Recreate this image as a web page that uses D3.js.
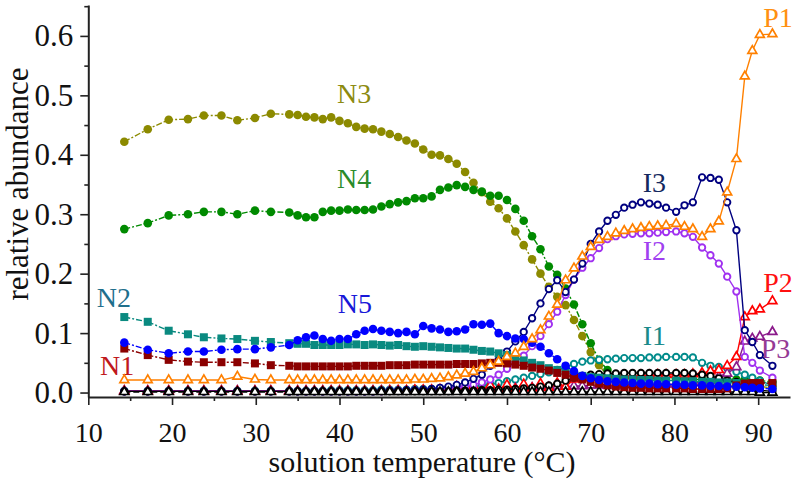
<!DOCTYPE html>
<html><head><meta charset="utf-8">
<script src="https://cdn.jsdelivr.net/npm/d3@7"></script>
<style>
body{margin:0;background:#fff}
svg{display:block}
svg text{font-family:"Liberation Serif","Tinos","Times New Roman","DejaVu Serif",serif !important}
</style>
</head><body>
<svg id="chart" width="800" height="485"></svg>
<script>
// ---------- data ----------
const temperature = [14.3,17.1,19.6,21.9,23.8,25.9,27.8,29.9,31.8,
  34,35,36,37,38,39,40,41,42,43,
  44,45,46,47,48,49,50,51,52,53,
  54,55,56,57,58,59,60,61,62,63,
  64,65,66,67,68,69,70,71,72,73,
  74,75,76,77,78,79,
  80.2,81.2,82.2,83.3,84.3,85.3,86.3,87.4,88.4,89.3,90.2,91.7];

const N3 = [0.422,0.443,0.459,0.460,0.466,0.466,0.458,0.462,0.469,
  0.468,0.467,0.464,0.463,0.460,0.463,0.457,0.453,0.447,0.444,
  0.443,0.439,0.435,0.430,0.424,0.419,0.409,0.400,0.399,0.393,
  0.385,0.371,0.353,0.337,0.321,0.310,0.293,0.271,0.248,0.224,
  0.200,0.178,0.161,0.147,0.122,0.095,0.068,0.046,0.028,0.020,
  0.016,0.014,0.013,0.012,0.012,0.011,
  0.011,0.011,0.010,0.010,0.010,0.010,0.010,0.011,0.012,0.012,0.010,0.008];

const N4 = [0.275,0.285,0.298,0.300,0.304,0.304,0.300,0.306,0.304,
  0.303,0.298,0.295,0.295,0.304,0.306,0.306,0.308,0.307,0.307,
  0.308,0.313,0.317,0.320,0.322,0.327,0.327,0.330,0.341,0.345,
  0.349,0.346,0.341,0.338,0.331,0.331,0.324,0.309,0.289,0.263,
  0.241,0.212,0.198,0.175,0.148,0.115,0.083,0.055,0.038,0.030,
  0.027,0.026,0.025,0.024,0.024,0.023,
  0.023,0.023,0.022,0.022,0.022,0.022,0.022,0.022,0.022,0.022,0.020,0.018];

const N5 = [0.084,0.072,0.066,0.069,0.069,0.072,0.073,0.073,0.076,
  0.080,0.088,0.093,0.096,0.090,0.087,0.090,0.090,0.098,0.104,
  0.107,0.104,0.102,0.100,0.102,0.098,0.112,0.108,0.106,0.102,
  0.103,0.106,0.115,0.114,0.116,0.100,0.095,0.091,0.090,0.084,
  0.077,0.066,0.056,0.045,0.036,0.028,0.024,0.021,0.019,0.018,
  0.017,0.016,0.015,0.015,0.014,0.014,
  0.013,0.013,0.012,0.012,0.011,0.011,0.010,0.010,0.009,0.008,0.007,0.006];

const N2 = [0.127,0.119,0.104,0.098,0.093,0.091,0.090,0.087,0.085,
  0.083,0.082,0.082,0.080,0.080,0.080,0.080,0.081,0.081,0.080,
  0.081,0.080,0.079,0.080,0.078,0.077,0.078,0.077,0.076,0.075,
  0.074,0.074,0.072,0.070,0.069,0.066,0.063,0.059,0.054,0.050,
  0.046,0.041,0.038,0.035,0.030,0.028,0.026,0.025,0.024,0.023,
  0.022,0.022,0.021,0.021,0.020,0.020,
  0.020,0.019,0.019,0.018,0.018,0.017,0.017,0.016,0.015,0.014,0.013,0.012];

const N1 = [0.074,0.063,0.055,0.052,0.051,0.051,0.051,0.049,0.046,
  0.045,0.044,0.044,0.044,0.044,0.044,0.044,0.044,0.045,0.045,
  0.045,0.045,0.046,0.046,0.046,0.047,0.047,0.047,0.047,0.047,
  0.048,0.048,0.048,0.049,0.050,0.050,0.049,0.047,0.045,0.042,
  0.040,0.037,0.033,0.030,0.025,0.022,0.018,0.015,0.012,0.010,
  0.009,0.008,0.008,0.007,0.007,0.007,
  0.007,0.007,0.006,0.006,0.006,0.006,0.007,0.012,0.015,0.016,0.016,0.016];

const I1 = [0.003,0.003,0.003,0.003,0.003,0.003,0.003,0.003,0.003,
  0.003,0.003,0.003,0.003,0.003,0.004,0.004,0.004,0.004,0.004,
  0.004,0.005,0.005,0.005,0.005,0.006,0.006,0.006,0.007,0.007,
  0.008,0.009,0.010,0.012,0.014,0.016,0.019,0.022,0.025,0.028,
  0.031,0.034,0.038,0.042,0.048,0.052,0.054,0.055,0.056,0.057,
  0.058,0.058,0.058,0.059,0.059,0.060,
  0.060,0.060,0.059,0.050,0.045,0.043,0.041,0.035,0.030,0.025,0.020,0.012];

const I2 = [0.002,0.002,0.002,0.002,0.002,0.002,0.002,0.002,0.002,
  0.002,0.002,0.002,0.002,0.002,0.002,0.002,0.002,0.002,0.002,
  0.002,0.002,0.003,0.003,0.003,0.004,0.004,0.005,0.006,0.007,
  0.008,0.010,0.013,0.017,0.022,0.030,0.040,0.050,0.062,0.078,
  0.095,0.115,0.136,0.164,0.190,0.210,0.226,0.243,0.258,0.263,
  0.266,0.267,0.268,0.268,0.269,0.270,
  0.271,0.268,0.262,0.244,0.231,0.217,0.195,0.170,0.060,0.050,0.037,0.025];

const I3 = [0.002,0.002,0.002,0.002,0.002,0.002,0.002,0.002,0.002,
  0.002,0.002,0.002,0.002,0.002,0.002,0.002,0.002,0.002,0.002,
  0.002,0.003,0.003,0.003,0.004,0.004,0.005,0.006,0.008,0.010,
  0.013,0.017,0.023,0.030,0.045,0.055,0.069,0.086,0.102,0.125,
  0.150,0.174,0.189,0.169,0.190,0.217,0.250,0.271,0.289,0.299,
  0.311,0.316,0.320,0.318,0.316,0.311,
  0.304,0.315,0.320,0.362,0.361,0.358,0.320,0.273,0.105,0.085,0.063,0.045];

const P1 = [0.021,0.021,0.021,0.021,0.021,0.021,0.027,0.022,0.021,
  0.021,0.021,0.021,0.021,0.021,0.021,0.021,0.021,0.021,0.021,
  0.021,0.021,0.021,0.021,0.021,0.022,0.022,0.023,0.024,0.026,
  0.029,0.032,0.035,0.041,0.046,0.052,0.060,0.066,0.077,0.090,
  0.105,0.128,0.148,0.189,0.209,0.229,0.245,0.257,0.262,0.268,
  0.272,0.275,0.277,0.279,0.280,0.281,
  0.284,0.279,0.275,0.262,0.275,0.288,0.337,0.393,0.532,0.575,0.602,0.603];

const P2 = [0.002,0.002,0.002,0.002,0.002,0.002,0.002,0.002,0.002,
  0.002,0.002,0.002,0.002,0.002,0.002,0.002,0.002,0.002,0.002,
  0.002,0.002,0.003,0.003,0.003,0.004,0.004,0.004,0.005,0.003,
  0.010,0.003,0.011,0.004,0.012,0.005,0.013,0.006,0.014,0.007,
  0.015,0.008,0.016,0.010,0.022,0.024,0.025,0.026,0.027,0.027,
  0.028,0.028,0.029,0.029,0.030,0.030,
  0.030,0.030,0.031,0.033,0.036,0.038,0.045,0.060,0.127,0.137,0.140,0.154];

const P3 = [0.003,0.003,0.003,0.003,0.003,0.003,0.003,0.003,0.003,
  0.003,0.003,0.003,0.003,0.003,0.003,0.003,0.003,0.003,0.003,
  0.003,0.003,0.003,0.003,0.003,0.003,0.003,0.003,0.003,0.003,
  0.004,0.004,0.005,0.005,0.006,0.006,0.007,0.007,0.008,0.008,
  0.009,0.009,0.010,0.010,0.011,0.011,0.012,0.012,0.012,0.012,
  0.013,0.013,0.013,0.013,0.013,0.014,
  0.014,0.015,0.016,0.018,0.020,0.027,0.032,0.043,0.086,0.091,0.094,0.102];

const blackCircles = [0.002,0.002,0.002,0.002,0.002,0.002,0.002,0.002,0.002,
  0.002,0.002,0.002,0.002,0.002,0.002,0.002,0.002,0.002,0.002,
  0.002,0.002,0.002,0.002,0.002,0.002,0.002,0.002,0.002,0.002,
  0.003,0.003,0.003,0.004,0.004,0.005,0.005,0.006,0.007,0.008,
  0.010,0.012,0.015,0.020,0.025,0.028,0.030,0.031,0.032,0.032,
  0.033,0.033,0.033,0.033,0.033,0.033,
  0.033,0.033,0.032,0.030,0.028,0.024,0.020,0.018,0.010,0.006,0.004,0.002];

const blackTriangles = [0.001,0.001,0.001,0.001,0.001,0.001,0.001,0.001,0.001,
  0.001,0.001,0.001,0.001,0.001,0.001,0.001,0.001,0.001,0.001,
  0.001,0.001,0.001,0.001,0.001,0.001,0.001,0.001,0.001,0.001,
  0.001,0.001,0.001,0.001,0.001,0.001,0.001,0.001,0.001,0.001,
  0.001,0.001,0.001,0.001,0.001,0.001,0.001,0.001,0.001,0.001,
  0.001,0.001,0.001,0.001,0.001,0.001,
  0.001,0.001,0.001,0.001,0.001,0.001,0.001,0.001,0.001,0.001,0.000,0.000];

const yMajorTicks = [0.0,0.1,0.2,0.3,0.4,0.5,0.6];
const yMinorTicks = [0.05,0.15,0.25,0.35,0.45,0.55,0.65];
const xMajorTicks = [10,20,30,40,50,60,70,80,90];
const xMinorTicks = [15,25,35,45,55,65,75,85];

const labelText = ["N3","N4","N2","N5","N1","I3","I2","I1","P1","P2","P3"];
const labelT    = [39.7,39.7,11.0,39.8,11.4,76.2,76.2,76.2,90.6,90.6,90.3];
const labelV    = [0.487,0.344,0.144,0.134,0.029,0.337,0.223,0.080,0.615,0.169,0.058];

// ---------- styles ----------
const FONT = "'Liberation Serif','Tinos','Times New Roman','DejaVu Serif',serif";
const labelColor = {N3:"#8c8a10",N4:"#2a8a2a",N2:"#1f6f8c",N5:"#1818d8",N1:"#c0181c",
  I3:"#14285e",I2:"#a040f0",I1:"#1a8a8a",P1:"#ff9010",P2:"#ff1010",P3:"#953a95"};

const series = [
  {v:N3, color:"#8c8a00", mark:"circle", dash:"6,2,2,2"},
  {v:N4, color:"#008a00", mark:"circle", dash:"6,2,2,2"},
  {v:I1, color:"#008b8b", mark:"ocircle", dash:null},
  {v:P3, color:"#8b1a8b", mark:"otri", dash:null},
  {v:P2, color:"#ff0000", mark:"otri", dash:null},
  {v:I2, color:"#a030f0", mark:"ocircle", dash:null},
  {v:I3, color:"#000080", mark:"ocircle", dash:null},
  {v:blackCircles, color:"#000000", mark:"ocircle", dash:null},
  {v:blackTriangles, color:"#000000", mark:"otri", dash:"6,3"},
  {v:N2, color:"#0a8a80", mark:"square", dash:"6,2,2,2"},
  {v:N1, color:"#8b0000", mark:"square", dash:"6,2,2,2"},
  {v:N5, color:"#0000ff", mark:"circle", dash:"6,2,2,2"},
  {v:P1, color:"#ff8000", mark:"otri", dash:null}
];

// ---------- drawing ----------
const svg = d3.select("#chart").attr("font-family", FONT);
const x = d3.scaleLinear().domain([10, 93.8]).range([88.3, 790]);
const y = d3.scaleLinear().domain([-0.0075, 0.652]).range([397, 5]);

// labels (drawn beneath the data)
svg.append("g").selectAll("text").data(labelText).join("text")
  .attr("x", (d,i) => x(labelT[i]))
  .attr("y", (d,i) => y(labelV[i]))
  .attr("font-family", FONT)
  .attr("font-size", 28)
  .attr("fill", d => labelColor[d])
  .text(d => d);

const plot = svg.append("g");
const line = d3.line().x((d,i) => x(temperature[i])).y(d => y(d));
const tri = d3.symbol().type(d3.symbolTriangle).size(34);

series.forEach(s => {
  const g = plot.append("g");
  g.append("path").attr("d", line(s.v)).attr("fill","none")
    .attr("stroke", s.color).attr("stroke-width", 1.4)
    .attr("stroke-dasharray", s.dash);
  const pts = g.selectAll(".m").data(s.v).join(
    s.mark === "square" ? "rect" : (s.mark === "otri" ? "path" : "circle"));
  if (s.mark === "circle") {
    pts.attr("cx",(d,i)=>x(temperature[i])).attr("cy",d=>y(d)).attr("r",4.3).attr("fill",s.color);
  } else if (s.mark === "ocircle") {
    pts.attr("cx",(d,i)=>x(temperature[i])).attr("cy",d=>y(d)).attr("r",3.2)
      .attr("fill","#fff").attr("stroke",s.color).attr("stroke-width",1.9);
  } else if (s.mark === "square") {
    pts.attr("x",(d,i)=>x(temperature[i])-4).attr("y",d=>y(d)-4)
      .attr("width",8).attr("height",8).attr("fill",s.color);
  } else {
    pts.attr("d", tri).attr("transform",(d,i)=>`translate(${x(temperature[i])},${y(d)})`)
      .attr("fill","#fff").attr("stroke",s.color).attr("stroke-width",1.7);
  }
});

// axes
const ax = svg.append("g");
const yAxis = ax.append("g").attr("transform","translate(88.3,0)")
  .call(d3.axisLeft(y).tickValues(yMajorTicks).tickFormat(d3.format(".1f"))
        .tickSize(8).tickSizeOuter(0).tickPadding(7));
const yMinor = ax.append("g").attr("transform","translate(88.3,0)")
  .call(d3.axisLeft(y).tickValues(yMinorTicks).tickFormat("").tickSize(4).tickSizeOuter(0));
const xAxis = ax.append("g").attr("transform","translate(0,397)")
  .call(d3.axisBottom(x).tickValues(xMajorTicks).tickFormat(d3.format("d"))
        .tickSize(8).tickSizeOuter(0).tickPadding(17));
const xMinor = ax.append("g").attr("transform","translate(0,397)")
  .call(d3.axisBottom(x).tickValues(xMinorTicks).tickFormat("").tickSize(4).tickSizeOuter(0));

ax.selectAll("g").attr("font-family", FONT);
ax.selectAll(".domain").attr("stroke","#222").attr("stroke-width",2);
ax.selectAll(".tick line").attr("stroke","#222").attr("stroke-width",1.6);
yMinor.select(".domain").remove();
xMinor.select(".domain").remove();
ax.selectAll(".tick text").attr("font-family", FONT).attr("fill","#111");
yAxis.selectAll(".tick text").attr("font-size",31);
xAxis.selectAll(".tick text").attr("font-size",28);

svg.append("text").attr("x", 422).attr("y", 472).attr("text-anchor","middle")
  .attr("font-family", FONT).attr("font-size", 30).attr("fill","#111")
  .text("solution temperature (°C)");
svg.append("text").attr("transform","translate(28,184) rotate(-90)")
  .attr("text-anchor","middle").attr("font-family", FONT).attr("font-size",31).attr("fill","#111")
  .text("relative abundance");
</script>
</body></html>
